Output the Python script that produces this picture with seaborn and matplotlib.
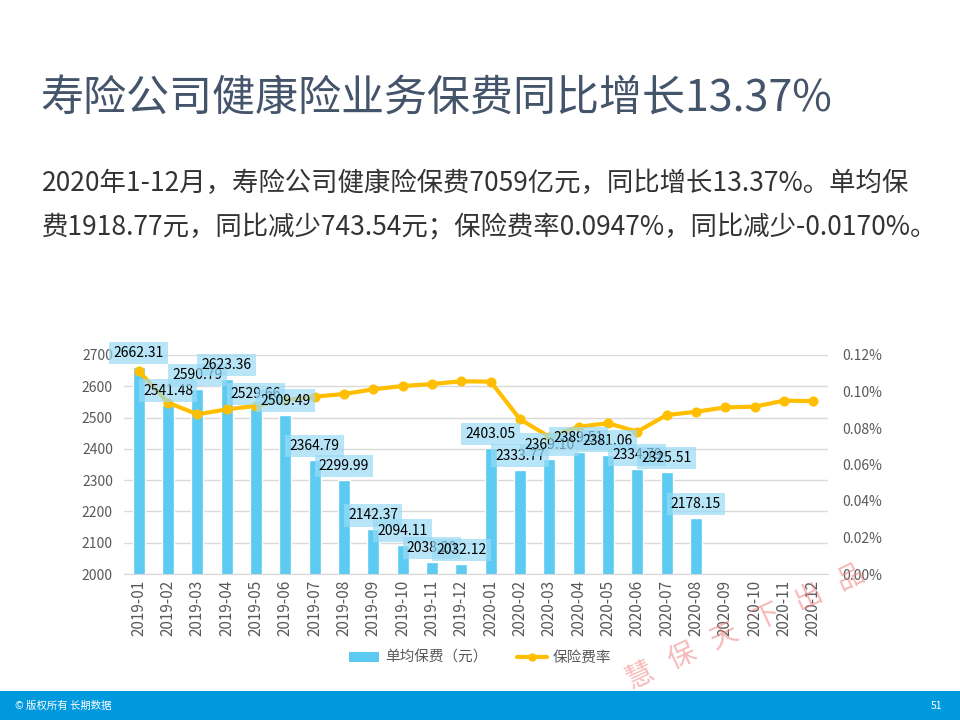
import pandas as pd
import matplotlib.pyplot as plt
from matplotlib.patches import Rectangle, Patch
from matplotlib.lines import Line2D
from matplotlib.ticker import FixedLocator
import seaborn as sns

# Data
months = ['2019-01', '2019-02', '2019-03', '2019-04', '2019-05', '2019-06',
          '2019-07', '2019-08', '2019-09', '2019-10', '2019-11', '2019-12',
          '2020-01', '2020-02', '2020-03', '2020-04', '2020-05', '2020-06',
          '2020-07', '2020-08', '2020-09', '2020-10', '2020-11', '2020-12']
avg_premium = [2662.31, 2541.48, 2590.79, 2623.36, 2529.66, 2509.49,
               2364.79, 2299.99, 2142.37, 2094.11, 2038.20, 2032.12,
               2403.05, 2333.77, 2369.10, 2389.51, 2381.06, 2334.79,
               2325.51, 2178.15, 0, 0, 0, 0]
rate_pct = [0.1112, 0.0939, 0.0875, 0.0902, 0.0921, 0.0953,
            0.0972, 0.0986, 0.1012, 0.1030, 0.1041, 0.1056,
            0.1054, 0.0848, 0.0752, 0.0807, 0.0826, 0.0780,
            0.0871, 0.0889, 0.0913, 0.0917, 0.0950, 0.0947]

BAR_C = '#5DCAF2'
LINE_C = '#FFBF00'
TICK_C = '#595959'

sns.set_style('white')
plt.rcParams['font.family'] = ['Noto Sans CJK SC', 'DejaVu Sans']

df = pd.DataFrame({'month': months, 'premium': avg_premium, 'rate': rate_pct})

fig = plt.figure(figsize=(9.6, 7.2), dpi=100)

# Header texts
fig.text(0.042, 1 - 100 / 720, '寿险公司健康险业务保费同比增长13.37%',
         fontsize=31, color='#44546A', va='center')
fig.text(0.044, 1 - 183 / 720,
         '2020年1-12月，寿险公司健康险保费7059亿元，同比增长13.37%。单均保',
         fontsize=19, color='#333333', va='center', fontweight='light')
fig.text(0.044, 1 - 228 / 720,
         '费1918.77元，同比减少743.54元；保险费率0.0947%，同比减少-0.0170%。',
         fontsize=19, color='#333333', va='center', fontweight='light')

ax = fig.add_axes([124 / 960, 1 - 574 / 720, 704 / 960, 219 / 720])
sns.barplot(data=df, x='month', y='premium', color=BAR_C, width=0.4,
            saturation=1, ax=ax)
ax.set_ylim(2000, 2700)
ax.set_yticks(range(2000, 2701, 100))
ax.grid(axis='y', color='#D9D9D9', linewidth=1)
ax.set_axisbelow(True)
ax.set_xlabel('')
ax.set_ylabel('')
for s in ['top', 'left', 'right']:
    ax.spines[s].set_visible(False)
ax.spines['bottom'].set_color('#D9D9D9')
ax.tick_params(axis='y', length=0, labelsize=10, labelcolor=TICK_C, pad=8)
ax.tick_params(axis='x', which='major', length=0, labelsize=11,
               labelcolor=TICK_C, rotation=90, pad=4)
ax.xaxis.set_minor_locator(FixedLocator([i - 0.5 for i in range(len(months) + 1)]))
ax.tick_params(axis='x', which='minor', length=5, color='#D9D9D9')
ax.set_xlim(-0.5, len(months) - 0.5)

ax2 = ax.twinx()
sns.pointplot(data=df, x='month', y='rate', color=LINE_C, markers='o',
              markersize=5, linewidth=3, ax=ax2)
ax2.set_ylim(0, 0.12)
ax2.set_yticks([0, 0.02, 0.04, 0.06, 0.08, 0.10, 0.12])
ax2.set_yticklabels([f'{t:.2f}%' for t in [0, 0.02, 0.04, 0.06, 0.08, 0.10, 0.12]])
ax2.tick_params(axis='y', length=0, labelsize=10, labelcolor=TICK_C, pad=10)
ax2.set_ylabel('')
ax2.set_xlabel('')
for s in ['top', 'left', 'right', 'bottom']:
    ax2.spines[s].set_visible(False)
ax2.set_xlim(-0.5, len(months) - 0.5)
ax2.grid(False)

# Data labels above the bars, drawn over the rate line
for i, v in enumerate(avg_premium):
    if v <= 0:
        continue
    ax2.annotate(f'{v:.2f}', (i, v), xycoords=ax.transData,
                 xytext=(0, 14), textcoords='offset pixels',
                 ha='center', va='center', fontsize=10, color='black',
                 bbox=dict(boxstyle='square,pad=0.3', facecolor='#9ADBF5',
                           edgecolor='none', alpha=0.7),
                 annotation_clip=False, zorder=5)

# Legend
handles = [Patch(facecolor=BAR_C, edgecolor='none'),
           Line2D([0], [0], color=LINE_C, linewidth=3, marker='o', markersize=5)]
fig.legend(handles, ['单均保费（元）', '保险费率'], loc='center',
           bbox_to_anchor=(0.5, 1 - 658 / 720), ncol=2, frameon=False,
           fontsize=10.5, labelcolor=TICK_C, handlelength=2.1,
           handletextpad=0.4, columnspacing=2.0)

# Watermark
fig.text(0.777, 1 - 627 / 720, '慧   保   天   下   出   品', fontsize=20,
         color='#F08080', alpha=0.55, rotation=25, ha='center', va='center')

# Footer band
fig.patches.append(Rectangle((0, 0), 1, 29 / 720, transform=fig.transFigure,
                             facecolor='#0099DD', edgecolor='none', zorder=0))
fig.text(0.016, 14 / 720, '© 版权所有 长期数据', fontsize=7.5, color='white',
         va='center')
fig.text(0.975, 14 / 720, '51', fontsize=7.5, color='white', va='center', ha='center')

fig.savefig('out.png', dpi=100)
